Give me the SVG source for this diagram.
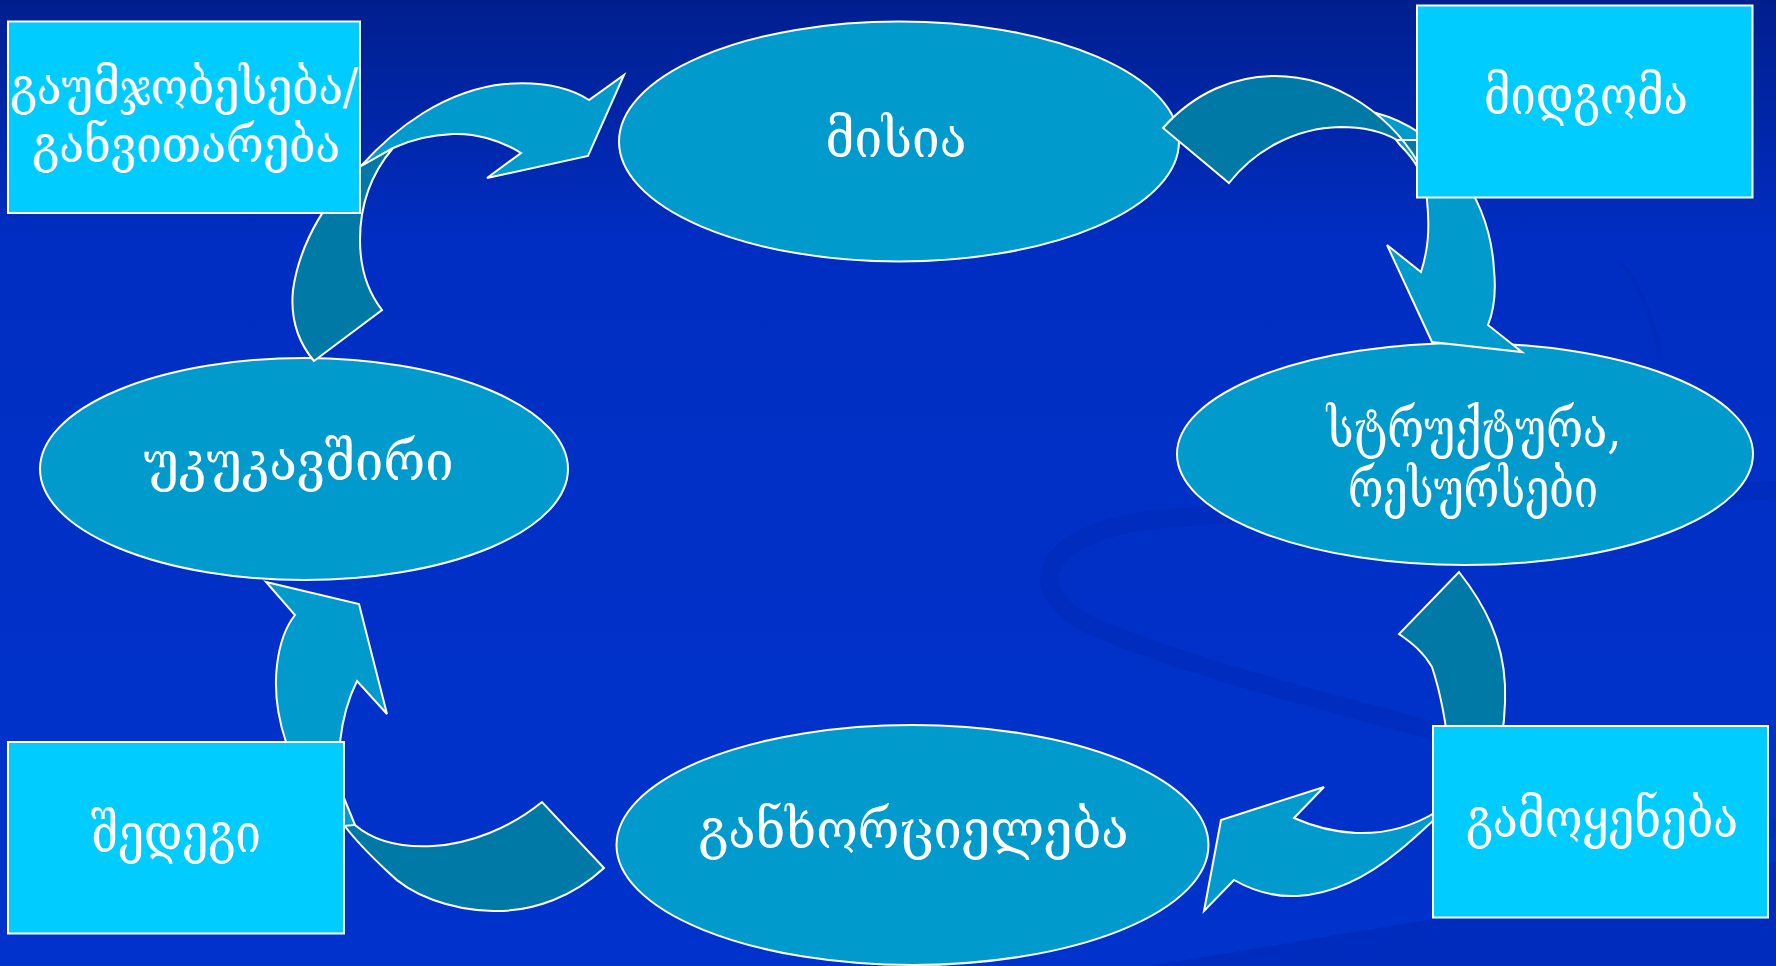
<svg xmlns="http://www.w3.org/2000/svg" width="1776" height="966" viewBox="0 0 1776 966">
  <defs>
    <linearGradient id="bg" x1="0" y1="0" x2="0" y2="1">
      <stop offset="0" stop-color="#001F8F"/>
      <stop offset="0.25" stop-color="#002EC2"/>
      <stop offset="1" stop-color="#0033CC"/>
    </linearGradient>
    <style>
      .ell { fill: #009BCC; stroke: #FFFFFF; stroke-width: 2; }
      .box { fill: #00CCFF; stroke: #FFFFFF; stroke-width: 2; }
      .front { fill: #009BCC; stroke: #FFFFFF; stroke-width: 2; stroke-linejoin: miter; }
      .back { fill: #0079A6; stroke: #FFFFFF; stroke-width: 2; stroke-linejoin: miter; }
      .lbl { font-family: "DejaVu Serif", "DejaVu Sans", serif; font-size: 55px; fill: #FFFFFF; text-anchor: middle; }
      .lbl2 { font-size: 50px; }
      .swoosh { fill: none; stroke: #0029B6; }
    </style>
  </defs>

  <g id="background">
    <rect x="0" y="0" width="1776" height="966" fill="url(#bg)"/>
    <path class="swoosh" stroke-width="18" opacity="0.5" d="M 1776,490 C 1600,500 1300,505 1150,520 C 1040,535 1020,590 1090,625 C 1180,665 1320,700 1445,734 C 1560,765 1680,800 1776,830"/>
    <path class="swoosh" stroke-width="4" opacity="0.5" d="M 1620,262 C 1640,285 1655,320 1660,360"/>
    <path d="M 1150,966 L 1776,862 L 1776,966 Z" fill="#002AB8" opacity="0.7"/>
  </g>

  <g id="node-misia">
    <ellipse class="ell" cx="899" cy="141.5" rx="280" ry="120"/>
    <text class="lbl" x="896" y="157" textLength="141" lengthAdjust="spacingAndGlyphs">მისია</text>
  </g>
  <g id="node-struktura">
    <ellipse class="ell" cx="1465" cy="454" rx="288" ry="111"/>
    <text class="lbl" x="1474" y="447" textLength="295" lengthAdjust="spacingAndGlyphs">სტრუქტურა,</text>
    <text class="lbl" x="1473" y="507" textLength="250" lengthAdjust="spacingAndGlyphs">რესურსები</text>
  </g>
  <g id="node-ganxorcieleba">
    <ellipse class="ell" cx="912.5" cy="845" rx="296" ry="120"/>
    <text class="lbl" x="913.6" y="848" textLength="430" lengthAdjust="spacingAndGlyphs">განხორციელება</text>
  </g>
  <g id="node-ukukavshiri">
    <ellipse class="ell" cx="304" cy="469" rx="264" ry="111"/>
    <text class="lbl" x="298.5" y="480" textLength="310" lengthAdjust="spacingAndGlyphs">უკუკავშირი</text>
  </g>

  <g id="connectors">
    <path class="back" d="M 361,166 C 330,195 300,240 293,290 C 290,320 298,342 314,361 L 382,310 C 368,292 360,270 360,240 C 360,205 370,175 393,148 Z"/>
    <path class="front" d="M 361,166 C 395,128 445,90 505,84 C 545,81 570,88 589,100 L 624,75 L 588,156 L 487,178 L 521,153 C 500,140 475,133 453,134 C 430,135 410,140 393,148 Z"/>
    <path class="front" d="M 1376,113 C 1440,130 1490,195 1494,270 C 1496,290 1494,310 1488,325 L 1522,352 L 1432,342 L 1387,245 L 1421,272 C 1428,250 1430,230 1427,200 C 1425,175 1415,160 1400,145 Z"/>
    <path class="back" d="M 1163,128 C 1195,92 1235,76 1275,76 C 1335,76 1395,115 1425,175 L 1440,170 L 1440,140 L 1397,140 C 1380,130 1360,127 1340,127 C 1295,128 1255,150 1229,183 Z"/>
    <path class="back" d="M 1459,572 C 1485,605 1503,640 1505,685 C 1506,710 1503,735 1498,760 L 1450,760 C 1447,730 1443,700 1432,667 C 1422,650 1410,642 1399,634 Z"/>
    <path class="front" d="M 1436,812 C 1410,828 1385,834 1356,833 C 1335,832 1312,826 1294,818 L 1324,787 L 1221,820 L 1204,911 L 1234,880 C 1255,892 1275,897 1297,896 C 1335,894 1370,875 1400,850 C 1415,838 1425,828 1436,818 Z"/>
    <path class="back" d="M 355,825 C 370,838 395,848 433,846 C 470,844 510,828 542,802 L 604,868 C 575,895 535,912 493,911 C 450,910 410,895 388,872 C 372,857 355,840 344,825 Z"/>
    <path class="front" d="M 286,742 C 277,715 274,690 277,665 C 280,640 287,625 295,615 L 266,582 L 359,604 L 387,714 L 357,681 C 350,695 343,715 340,742 C 337,770 340,790 344,798 L 355,825 L 344,826 L 300,800 Z"/>
  </g>

  <g id="node-gaumjobeseba">
    <rect class="box" x="8" y="21.5" width="352" height="191.5"/>
    <text class="lbl lbl2" x="184" y="104" textLength="348" lengthAdjust="spacingAndGlyphs">გაუმჯობესება/</text>
    <text class="lbl lbl2" x="186" y="162" textLength="308" lengthAdjust="spacingAndGlyphs">განვითარება</text>
  </g>
  <g id="node-midgoma">
    <rect class="box" x="1417" y="5.5" width="335.5" height="192"/>
    <text class="lbl" x="1586" y="114" textLength="204" lengthAdjust="spacingAndGlyphs">მიდგომა</text>
  </g>
  <g id="node-gamoyeneba">
    <rect class="box" x="1433" y="726" width="335" height="191.5"/>
    <text class="lbl" x="1602" y="837" textLength="272" lengthAdjust="spacingAndGlyphs">გამოყენება</text>
  </g>
  <g id="node-shedegi">
    <rect class="box" x="8" y="742" width="336" height="191.5"/>
    <text class="lbl" x="176" y="852" textLength="170" lengthAdjust="spacingAndGlyphs">შედეგი</text>
  </g>
</svg>
